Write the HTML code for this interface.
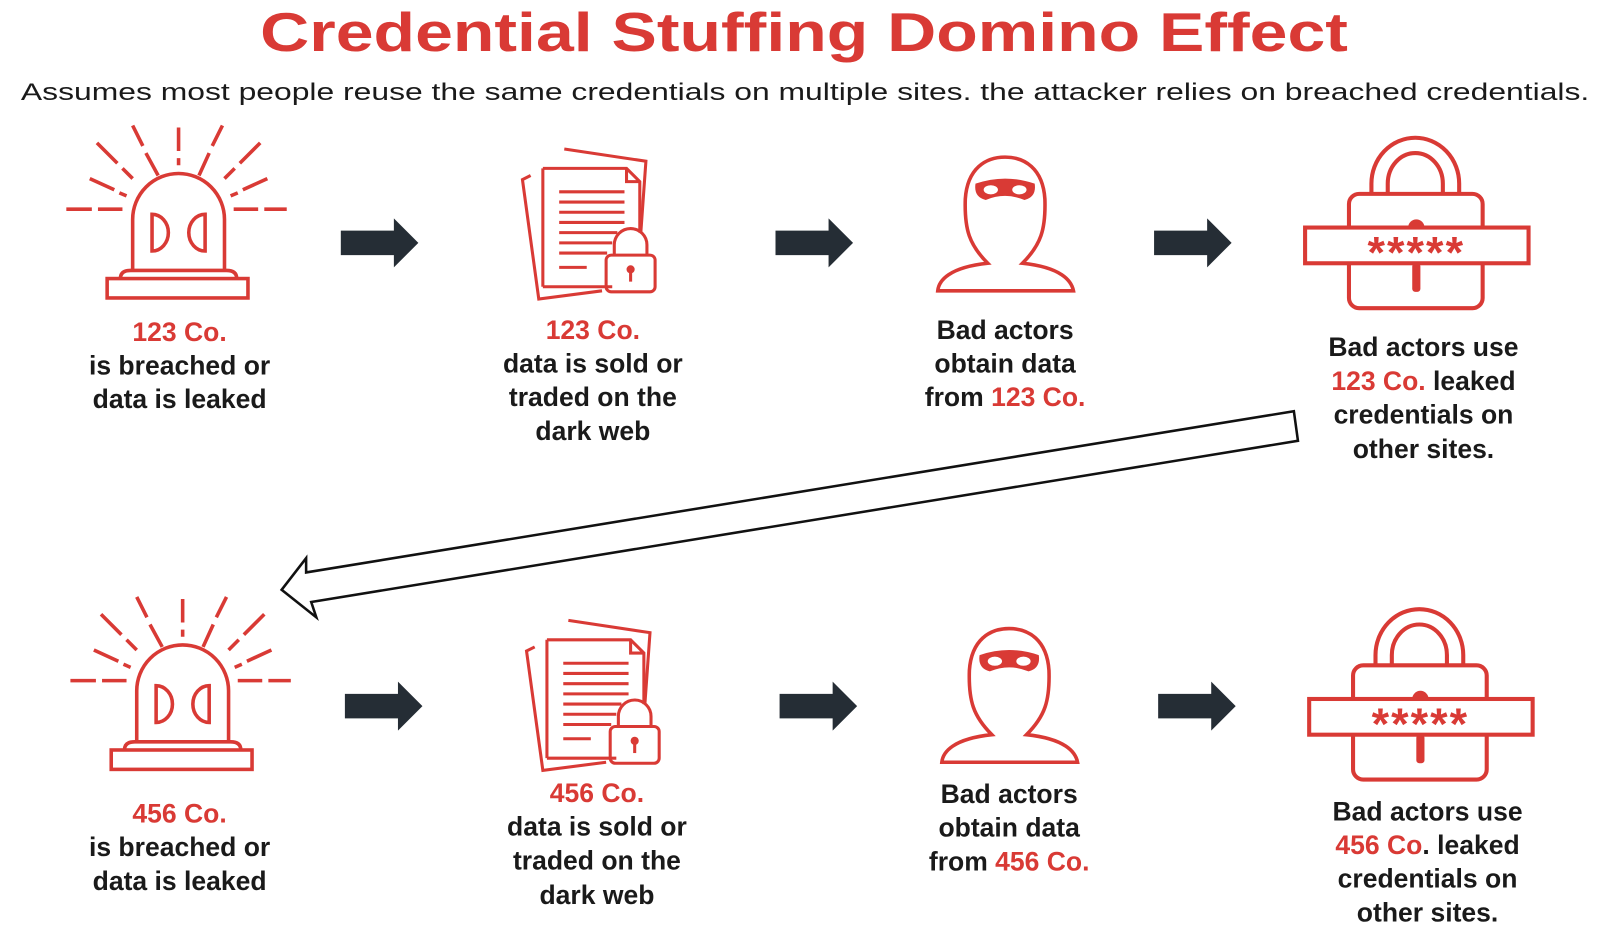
<!DOCTYPE html>
<html><head><meta charset="utf-8"><style>
html,body{margin:0;padding:0;background:#fff;}
svg{display:block}
text{font-family:"Liberation Sans",sans-serif;}
</style></head><body>
<svg width="1600" height="945" viewBox="0 0 1600 945" xmlns="http://www.w3.org/2000/svg">
<defs>
<g id="siren" fill="none" stroke="#d93a35" stroke-width="3.5">
  <path d="M130,265 V215 A45,45 0 0 1 220,215 V265"/>
  <path d="M118,273 Q118,265 128,265 H222 Q232,265 232,273"/>
  <rect x="105" y="273" width="138" height="19"/>
  <path d="M149,210 V246 A16,18 0 0 0 149,210 Z"/>
  <path d="M201,210 V246 A16,18 0 0 1 201,210 Z"/>
  <path d="M65,205 H90 M96,205 H120 M229,205 H253 M259,205 H281"/>
  <path d="M175,125 V148 M175,155 V162"/>
  <path d="M130,123 L140,143 M143,150 L155,172"/>
  <path d="M218,123 L208,143 M205,150 L195,172"/>
  <path d="M95,140 L115,160 M120,165 L130,175"/>
  <path d="M255,140 L235,160 M230,165 L220,175"/>
  <path d="M88,175 L112,186 M117,189 L124,192"/>
  <path d="M262,175 L238,186 M233,189 L226,192"/>
</g>
<g id="docs" fill="none" stroke="#d93a35" stroke-width="3">
  <path d="M520,172 L512,176 L528,293 L590,285"/>
  <path d="M553,146 L633,158 L628,228"/>
  <path d="M532,165 H614 L627,178 V228 M600,281 H532 Z" />
  <path d="M532,165 V281"/>
  <path d="M614,165 V178 H627"/>
  <path d="M548,188 H612 M548,198 H612 M548,208 H612 M548,218 H612 M548,228 H605 M548,238 H600 M548,248 H595 M548,262 H575"/>
  <path d="M602,250 V240 A16,16 0 0 1 634,240 V250"/>
  <rect x="594" y="250" width="48" height="36" rx="5"/>
  <circle cx="618" cy="264" r="2.5" fill="#d93a35"/>
  <path d="M618,266 V276"/>
</g>
<g id="person">
  <path d="M968,258 C950,240 945,225 946,195 C948,165 966,154 985,154 C1004,154 1022,165 1024,195 C1025,225 1020,240 1002,258 C1040,262 1050,275 1052,285 H919 C920,275 930,262 968,258 Z" fill="none" stroke="#d93a35" stroke-width="3.5"/>
  <path d="M956,180 Q985,170 1014,180 Q1016,193 1004,196 Q985,188 966,196 Q954,193 956,180 Z" fill="#d93a35"/>
  <ellipse cx="971" cy="186" rx="7" ry="4.5" fill="#fff"/>
  <ellipse cx="999" cy="186" rx="7" ry="4.5" fill="#fff"/>
</g>
<g id="lock">
  <g fill="none" stroke="#d93a35" stroke-width="4">
  <path d="M1344,190 V180 A43,45 0 0 1 1430,180 V190"/>
  <path d="M1360,190 V180 A27,30 0 0 1 1414,180 V190"/>
  <rect x="1322" y="190" width="131" height="112" rx="10"/>
  <rect x="1279" y="223" width="219" height="35" fill="#fff"/>
  </g>
  <path d="M1380,223 A8,8 0 0 1 1396,223 Z" fill="#d93a35"/>
  <rect x="1384" y="258" width="8" height="28" rx="3" fill="#d93a35"/>
  <text x="1388" y="262" text-anchor="middle" font-size="44" font-weight="bold" fill="#d93a35" letter-spacing="2">*****</text>
</g>
<g id="sarrow"><path d="M0,12 H52 V0 L76,24 L52,48 V36 H0 Z" fill="#252d35"/></g>
</defs>

<g transform="scale(1.0204)">
<text x="788" y="50" text-anchor="middle" font-size="54" font-weight="bold" fill="#d93a35" textLength="1066" lengthAdjust="spacingAndGlyphs">Credential Stuffing Domino Effect</text>
<text x="789" y="98" text-anchor="middle" font-size="24" fill="#1a1a1a" textLength="1537" lengthAdjust="spacingAndGlyphs">Assumes most people reuse the same credentials on multiple sites. the attacker relies on breached credentials.</text>

<use href="#siren"/><use href="#docs"/><use href="#person"/><use href="#lock"/>
<use href="#sarrow" x="334" y="214"/><use href="#sarrow" x="760" y="214"/><use href="#sarrow" x="1131" y="214"/>

<g transform="translate(4,462)">
<use href="#siren"/><use href="#docs"/><use href="#person"/><use href="#lock"/>
<use href="#sarrow" x="334" y="206"/><use href="#sarrow" x="760" y="206"/><use href="#sarrow" x="1131" y="206"/>
</g>

<path d="M1268,403 L1272,432 L305,590 L310,605 L276,578 L300,547 L300,561 Z" fill="#fff" stroke="#111" stroke-width="2.5" stroke-linejoin="miter"/>

<g font-size="26" font-weight="bold" fill="#1a1a1a" text-anchor="middle">
<text x="176" y="334" fill="#d93a35">123 Co.</text>
<text x="176" y="367">is breached or</text>
<text x="176" y="400">data is leaked</text>
<text x="581" y="332" fill="#d93a35">123 Co.</text>
<text x="581" y="365">data is sold or</text>
<text x="581" y="398">traded on the</text>
<text x="581" y="431">dark web</text>
<text x="985" y="332">Bad actors</text>
<text x="985" y="365">obtain data</text>
<text x="985" y="398">from <tspan fill="#d93a35">123 Co.</tspan></text>
<text x="1395" y="349">Bad actors use</text>
<text x="1395" y="382"><tspan fill="#d93a35">123 Co.</tspan> leaked</text>
<text x="1395" y="415">credentials on</text>
<text x="1395" y="449">other sites.</text>

<text x="176" y="806" fill="#d93a35">456 Co.</text>
<text x="176" y="839">is breached or</text>
<text x="176" y="872">data is leaked</text>
<text x="585" y="786" fill="#d93a35">456 Co.</text>
<text x="585" y="819">data is sold or</text>
<text x="585" y="852">traded on the</text>
<text x="585" y="886">dark web</text>
<text x="989" y="787">Bad actors</text>
<text x="989" y="820">obtain data</text>
<text x="989" y="853">from <tspan fill="#d93a35">456 Co.</tspan></text>
<text x="1399" y="804">Bad actors use</text>
<text x="1399" y="837"><tspan fill="#d93a35">456 Co</tspan>. leaked</text>
<text x="1399" y="870">credentials on</text>
<text x="1399" y="903">other sites.</text>
</g>
</g>
</svg>
</body></html>
